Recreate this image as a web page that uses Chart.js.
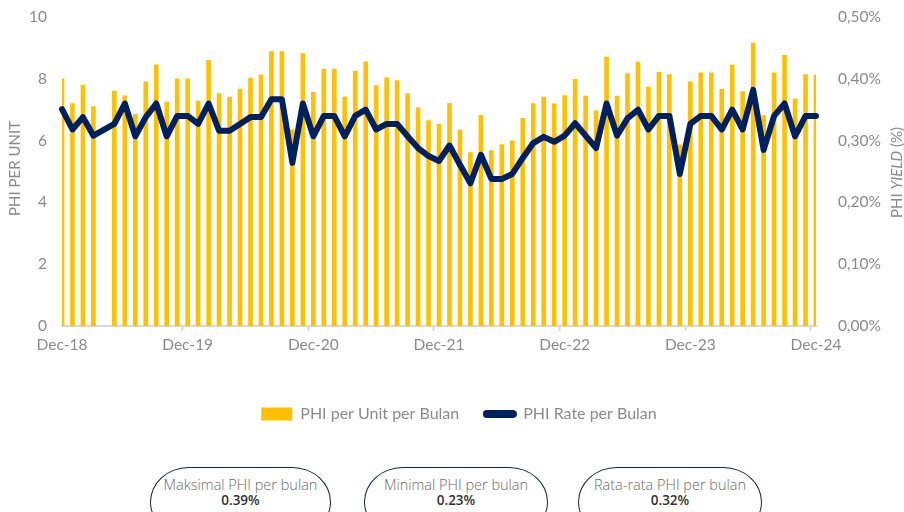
<!DOCTYPE html>
<html>
<head>
<meta charset="utf-8">
<script src="https://cdn.jsdelivr.net/npm/chart.js@4.4.1/dist/chart.umd.min.js"></script>
<style>
  html, body { margin: 0; padding: 0; background: #fff; }
  body { width: 904px; height: 512px; position: relative; overflow: hidden; }
  #wrap { position: absolute; left: 0; top: 0; width: 904px; height: 432px; }
  .pill {
    position: absolute; top: 467px; height: 70px;
    border: 1.5px solid #15244a; border-radius: 42px / 38px;
    box-sizing: border-box; text-align: center;
    font-family: "Open Sans", sans-serif; color: #6b6b6b;
  }
  .pill .lbl { font-size: 14.5px; font-weight: 300; margin-top: 8px; line-height: 17px; }
  .pill .val { font-size: 13.5px; font-weight: 600; color: #333; line-height: 15px; }
</style>
</head>
<body>
<div id="wrap"><canvas id="phiChart"></canvas></div>

<div class="pill" style="left:150px; width:181px;">
  <div class="lbl">Maksimal PHI per bulan</div>
  <div class="val">0.39%</div>
</div>
<div class="pill" style="left:364px; width:184px;">
  <div class="lbl">Minimal PHI per bulan</div>
  <div class="val">0.23%</div>
</div>
<div class="pill" style="left:578px; width:184px;">
  <div class="lbl">Rata-rata PHI per bulan</div>
  <div class="val">0.32%</div>
</div>

<script>
/* DATA */

const monthNames = ['Jan', 'Feb', 'Mar', 'Apr', 'May', 'Jun', 'Jul', 'Aug', 'Sep', 'Oct', 'Nov', 'Dec'];

// Dec-18 ... Dec-24, monthly
const months = [];
for (let i = 0; i < 73; i++) {
    const m = (11 + i) % 12;
    const y = 18 + Math.floor((11 + i) / 12);
    months.push(monthNames[m] + '-' + y);
}

// PHI per unit (left axis)
const phiPerUnit = [
    8.0,
    7.2, 7.8, 7.1, null, 7.6, 7.45, 6.85, 7.9, 8.45, 7.25, 8.0, 8.0,
    7.27, 8.6, 7.52, 7.4, 7.67, 8.02, 8.13, 8.88, 8.88, 6.35, 8.82, 7.56,
    8.31, 8.31, 7.41, 8.24, 8.55, 7.78, 8.03, 7.94, 7.52, 7.06, 6.65, 6.53,
    7.21, 6.34, 5.61, 6.82, 5.68, 5.87, 5.99, 6.72, 7.2, 7.41, 7.19, 7.46,
    7.98, 7.44, 6.96, 8.7, 7.44, 8.17, 8.54, 7.73, 8.21, 8.14, 5.86, 7.9,
    8.19, 8.19, 7.66, 8.44, 7.59, 9.16, 6.81, 8.19, 8.76, 7.35, 8.14, 8.12
];

// PHI rate in % (right axis)
const phiRate = [
    0.351,
    0.318, 0.338, 0.308, null, 0.327, 0.36, 0.307, 0.338, 0.36, 0.307, 0.34, 0.34,
    0.327, 0.36, 0.316, 0.316, 0.327, 0.338, 0.338, 0.367, 0.367, 0.264, 0.36, 0.307,
    0.34, 0.34, 0.307, 0.34, 0.35, 0.318, 0.327, 0.327, 0.307, 0.288, 0.275, 0.267,
    0.292, 0.261, 0.231, 0.277, 0.238, 0.238, 0.246, 0.272, 0.296, 0.306, 0.298, 0.308,
    0.328, 0.308, 0.288, 0.36, 0.308, 0.336, 0.35, 0.318, 0.34, 0.34, 0.246, 0.327,
    0.34, 0.34, 0.318, 0.35, 0.318, 0.382, 0.285, 0.34, 0.36, 0.307, 0.34, 0.34
];

const leftTicks = [0, 2, 4, 6, 8, 10];
const rightTicks = [0, 0.1, 0.2, 0.3, 0.4, 0.5];

/* STYLE */

const YELLOW = '#FFC000';
const NAVY = '#002060';
const GREY = '#8a8a8a';
const FONT = 'Lato, "Open Sans", sans-serif';
const TICK_SIZE = 15.5;

// rounded navy pill used as the line's legend symbol
const linePill = document.createElement('canvas');
linePill.width = 34;
linePill.height = 8;
(function () {
    const c = linePill.getContext('2d');
    c.strokeStyle = NAVY;
    c.lineWidth = 8;
    c.lineCap = 'round';
    c.beginPath();
    c.moveTo(4, 4);
    c.lineTo(30, 4);
    c.stroke();
})();

// axis titles ("YIELD" is italic, so they are drawn by hand)
const axisTitles = {
    id: 'axisTitles',
    afterLayout(chart) {
        // legend sits a little right of centre in the original
        chart.legend.left += 7;
        chart.legend.right += 7;
    },
    afterDraw(chart) {
        const ctx = chart.ctx;
        const midY = (chart.chartArea.top + chart.chartArea.bottom) / 2;

        ctx.save();
        ctx.fillStyle = GREY;
        ctx.textBaseline = 'middle';

        // left
        ctx.translate(15, midY - 3);
        ctx.rotate(-Math.PI / 2);
        ctx.font = '15px ' + FONT;
        ctx.textAlign = 'center';
        ctx.fillText('PHI PER UNIT', 0, 0);
        ctx.restore();

        // right, mixed styles
        ctx.save();
        ctx.fillStyle = GREY;
        ctx.textBaseline = 'middle';
        ctx.translate(897, midY + 1);
        ctx.rotate(-Math.PI / 2);
        const parts = [['PHI ', '15px '], ['YIELD', 'italic 15px '], [' (%)', '15px ']];
        let total = 0;
        parts.forEach(p => { ctx.font = p[1] + FONT; total += ctx.measureText(p[0]).width; });
        let x = -total / 2;
        ctx.textAlign = 'left';
        parts.forEach(p => {
            ctx.font = p[1] + FONT;
            ctx.fillText(p[0], x, 0);
            x += ctx.measureText(p[0]).width;
        });
        ctx.restore();
    }
};

// keep the tick padding from pushing the plot area down
function noVertPadding(scale) {
    scale.paddingTop = 0;
    scale.paddingBottom = 0;
}

/* CHART */

const ctx = document.getElementById('phiChart').getContext('2d');
const phiChart = new Chart(ctx, {
    type: 'bar',
    data: {
        labels: months,
        datasets: [
            {
                type: 'bar',
                label: 'PHI per Unit per Bulan',
                data: phiPerUnit,
                backgroundColor: YELLOW,
                barThickness: 4,
                yAxisID: 'y',
                order: 2,
            },
            {
                type: 'line',
                label: 'PHI Rate per Bulan',
                data: phiRate,
                borderColor: NAVY,
                backgroundColor: NAVY,
                borderWidth: 6,
                borderJoinStyle: 'round',
                borderCapStyle: 'round',
                pointRadius: 0,
                tension: 0,
                spanGaps: true,
                yAxisID: 'y1',
                order: 1,
            },
        ],
    },
    options: {
        responsive: true,
        maintainAspectRatio: false,
        animation: false,
        layout: { padding: { top: 17, left: 0, right: 0, bottom: 0 } },
        scales: {
            x: {
                offset: false,
                grid: {
                    drawOnChartArea: false,
                    drawTicks: true,
                    tickLength: 5,
                    tickWidth: 2,
                    color: (c) => (c.index % 12 === 0 ? '#d9d9d9' : 'rgba(0,0,0,0)'),
                },
                border: { display: true, color: '#d9d9d9', width: 2 },
                ticks: {
                    autoSkip: false,
                    maxRotation: 0,
                    padding: 5,
                    color: GREY,
                    font: { family: FONT, size: TICK_SIZE },
                    callback: (v, i) => (i % 12 === 0 ? months[i] : ''),
                },
                afterFit: (scale) => { scale.height = 55; },
            },
            y: {
                position: 'left',
                min: 0,
                max: 10,
                afterBuildTicks: (scale) => { scale.ticks = leftTicks.map(v => ({ value: v })); },
                grid: { display: false, drawTicks: false },
                border: { display: false },
                ticks: {
                    padding: 15,
                    color: GREY,
                    font: { family: FONT, size: TICK_SIZE },
                },
                afterFit: (scale) => { scale.width = 62; noVertPadding(scale); },
            },
            y1: {
                position: 'right',
                min: 0,
                max: 0.5,
                afterBuildTicks: (scale) => { scale.ticks = rightTicks.map(v => ({ value: v })); },
                grid: { display: false, drawTicks: false },
                border: { display: false },
                ticks: {
                    padding: 22,
                    color: GREY,
                    font: { family: FONT, size: TICK_SIZE },
                    callback: (v) => v.toFixed(2).replace('.', ',') + '%',
                },
                afterFit: (scale) => { scale.width = 88; noVertPadding(scale); },
            },
        },
        plugins: {
            tooltip: { enabled: false },
            legend: {
                display: true,
                position: 'bottom',
                labels: {
                    color: GREY,
                    font: { family: FONT, size: 16 },
                    usePointStyle: true,
                    pointStyleWidth: 31,
                    boxHeight: 13,
                    padding: 25,
                    sort: (a, b) => a.datasetIndex - b.datasetIndex,
                    generateLabels(chart) {
                        const items = Chart.defaults.plugins.legend.labels.generateLabels(chart);
                        items.forEach(it => {
                            if (it.datasetIndex === 0) {
                                it.pointStyle = 'rect';
                                it.lineWidth = 0;
                            } else {
                                it.pointStyle = linePill;
                            }
                        });
                        return items;
                    },
                },
            },
        },
    },
    plugins: [axisTitles],
});
</script>
</body>
</html>
